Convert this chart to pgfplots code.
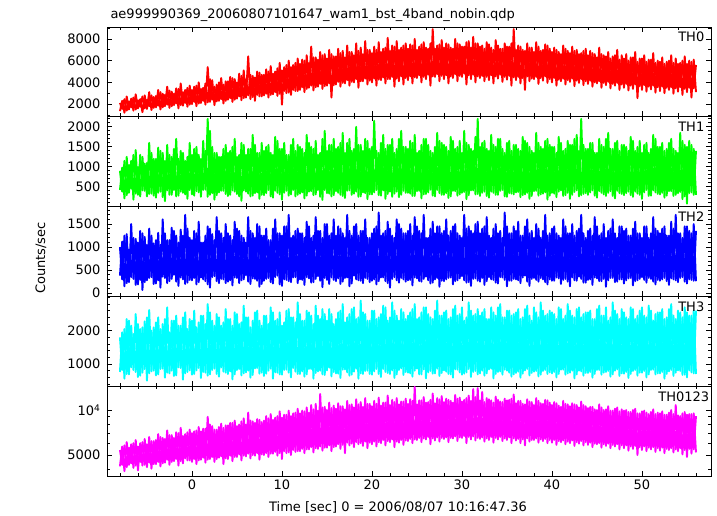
\documentclass[border=0pt]{standalone}
\usepackage{fontspec}
\setmainfont{DejaVu Sans}
\usepackage{pgfplots}
\usepackage{pgfplotstable}
\pgfplotsset{compat=1.18}

% t = time; a..e = first trace (TH0,TH1,TH2,TH3,TH0123); A..E = second, interleaved trace
\pgfplotstableread{
t a b c d e A B C D E
-8.00 1350 420 380 760 4200 2100 900 1000 1800 5400
-7.75 2300 980 1120 1950 5700 1550 380 300 820 4300
-7.50 1200 210 150 560 3900 2450 1150 1250 2050 5800
-7.25 2700 1250 1280 2350 6100 1400 290 220 700 4150
-7.00 1500 350 240 690 4300 2250 1050 950 2300 5600
-6.75 2500 1150 1500 2150 5900 1700 450 350 900 4400
-6.50 1400 180 310 820 4100 2600 1300 1200 1900 6000
-6.25 2900 1420 1180 2500 6300 1500 330 180 760 4250
-6.00 1600 300 190 610 3950 2350 1000 1100 2200 5700
-5.75 2450 1300 1350 2050 6000 1750 260 290 650 4500
-5.50 1250 410 70 740 4250 2700 1250 1300 2100 6100
-5.25 2800 1080 1220 2280 6400 1600 400 240 850 4300
-5.00 1550 260 280 500 4150 2400 1100 1050 2400 5900
-4.75 3100 1600 1400 2620 6600 1800 320 330 720 4450
-4.50 1450 330 350 780 4050 2800 1350 1250 2000 6200
-4.25 2650 1200 1080 2100 6200 1650 280 200 800 4350
-4.00 1700 230 210 660 4350 2750 1200 1150 2250 6300
-3.75 3300 1480 1310 2400 6900 1850 350 280 690 4500
-3.50 1500 380 120 850 4200 3100 1400 1050 2050 6600
-3.25 2950 1350 1600 2200 6500 1700 240 360 860 4400
-3.00 1800 140 330 590 4450 2850 1150 1300 2350 6400
-2.75 3600 1550 1150 2700 7300 1950 410 220 740 4650
-2.50 1650 300 260 720 4300 3250 1300 1150 1950 6800
-2.25 3150 1250 1420 2300 6800 1800 300 310 800 4500
-2.00 1900 420 400 640 4550 2950 1450 1350 2300 6500
-1.75 3450 1700 1250 2450 7100 2050 260 250 660 4700
-1.50 1600 280 160 900 4250 3400 1200 1100 2150 7000
-1.25 3900 1400 1380 2150 7600 1900 380 340 880 4550
-1.00 1850 350 300 530 4400 3100 1350 1250 2400 6700
-0.75 3300 1150 1700 2550 6900 2100 310 200 720 4750
-0.50 1750 200 230 760 4600 3500 1250 1400 2050 7100
-0.25 3700 1600 1200 2350 7400 1950 420 290 810 4600
0.00 2000 310 280 680 4500 3300 1300 1150 2300 7000
0.25 3600 1450 1350 2600 7200 2200 280 330 700 4700
0.50 1800 390 190 810 4350 3700 1500 1300 2100 7300
0.75 4000 1300 1550 2250 7700 2050 360 240 880 4600
1.00 2100 250 340 580 4650 3400 1200 1100 2450 7200
1.25 3500 1650 1100 2450 7500 2300 420 300 760 4800
1.50 1950 430 260 740 4450 3900 1400 1250 2200 7500
1.75 5400 2200 1450 2800 9000 2150 250 190 650 4650
2.00 2200 300 120 690 4700 4300 1900 1400 2550 8000
2.25 4200 1500 1280 2300 7800 2400 340 350 820 4850
2.50 1900 180 370 860 4500 3600 1350 1150 2150 7400
2.75 3800 1350 1650 2500 7400 2250 290 260 700 4700
3.00 2300 360 220 620 4800 4000 1250 1350 2400 7700
3.25 4400 1250 1300 2150 8100 2450 400 310 900 4900
3.50 2050 400 300 770 4350 3800 1450 1200 2250 7600
3.75 4100 1550 1500 2650 7900 2300 320 220 740 4750
4.00 2400 270 250 700 4700 4100 1350 1300 2350 7900
4.25 4500 1400 1250 2350 8200 2550 300 280 780 4950
4.50 2200 410 170 540 4550 4400 1500 1150 2150 8200
4.75 4300 1700 1550 2550 8500 2400 380 340 690 4850
5.00 2500 320 330 820 4850 4000 1250 1400 2500 7800
5.25 4800 1300 1350 2200 8000 2700 260 220 850 5050
5.50 2350 150 280 660 4600 4600 1600 1250 2250 8400
5.75 5100 1550 1200 2750 8800 2550 410 300 720 4950
6.00 2600 380 390 750 4900 4300 1300 1100 2400 8000
6.25 6400 1450 1650 2400 9600 2800 330 250 800 5100
6.50 2450 260 200 590 4750 4700 1450 1350 2100 8500
6.75 4600 1800 1300 2300 8400 2650 280 320 670 5000
7.00 2300 340 310 870 4950 4450 1550 1200 2550 8200
7.25 5000 1350 1500 2600 8700 2850 360 270 880 5150
7.50 2700 200 140 710 4650 4900 1350 1450 2300 8600
7.75 4700 1600 1250 2150 8300 2700 300 200 740 5050
8.00 2800 290 270 640 5000 4700 1400 1250 2450 8500
8.25 5200 1500 1400 2450 9100 2950 340 310 710 5150
8.50 2600 420 330 800 4850 5000 1550 1150 2200 8800
8.75 5500 1350 1150 2700 9400 2850 260 240 860 5100
9.00 2900 230 210 560 5100 4800 1300 1400 2550 8600
9.25 5000 1750 1600 2300 8900 3100 400 350 750 5250
9.50 2750 350 380 740 4950 5300 1650 1300 2350 9100
9.75 5800 1450 1300 2550 9800 2950 310 190 690 5150
10.00 1950 180 160 680 4700 5100 1450 1250 2150 8900
10.25 5400 1600 1450 2250 9300 3200 350 300 820 5300
10.50 3000 400 290 830 5150 5600 1300 1450 2600 9300
10.75 6000 1300 1700 2650 9900 3050 280 260 740 5200
11.00 2850 310 240 600 5000 5400 1550 1200 2400 9100
11.25 5600 1700 1250 2400 9500 3300 420 340 880 5400
11.50 3200 260 350 770 5250 5800 1400 1350 2250 9600
11.75 6200 1550 1400 2850 10200 3200 300 220 700 5300
12.00 3300 330 300 700 5300 5700 1500 1300 2500 9500
12.25 6100 1450 1300 2300 9900 3550 360 290 780 5500
12.50 3100 210 180 620 5150 6000 1350 1200 2300 9800
12.75 6500 1800 1550 2600 10400 3400 280 350 690 5450
13.00 3500 380 320 850 5450 5800 1600 1450 2550 9600
13.25 7300 1500 1200 2450 10800 3700 390 230 850 5650
13.50 3250 290 240 560 5200 6300 1450 1250 2200 10100
13.75 6300 1650 1650 2750 11000 3550 310 310 730 5550
14.00 3600 420 370 780 5500 6100 1300 1350 2450 9900
14.25 6800 1350 1350 2350 12800 3850 250 270 800 5700
14.50 3400 170 130 690 5350 6500 1700 1200 2650 10400
14.75 6600 1900 1500 2500 10500 3650 420 330 670 5600
15.00 3700 340 290 810 5600 6200 1400 1500 2300 10000
15.25 7000 1550 1250 2650 11200 3900 330 200 890 5800
15.50 2600 260 340 630 5300 6600 1550 1300 2500 10300
15.75 6400 1700 1600 2200 10700 3750 290 290 760 5650
16.00 3800 390 260 720 5700 6400 1450 1250 2350 10200
16.25 7100 1500 1450 2550 11100 4050 350 320 710 5900
16.50 3600 300 200 580 5500 6700 1600 1400 2600 10600
16.75 6900 1850 1300 2800 10600 3950 270 250 830 5850
17.00 3900 220 330 840 5150 6300 1350 1200 2250 10100
17.25 7400 1600 1700 2400 11500 4200 400 340 750 6050
17.50 3700 410 150 650 5800 6800 1700 1350 2500 10800
17.75 6800 1400 1250 2650 10900 4050 300 210 680 5950
18.00 4000 330 380 770 5650 6500 1450 1450 2700 10400
18.25 7600 2000 1500 2350 11800 4300 380 300 860 6100
18.50 3500 250 280 560 5900 6900 1550 1250 2400 10900
18.75 7200 1550 1350 2900 11300 4100 260 270 720 6000
19.00 4100 360 220 700 5750 6600 1400 1350 2550 10500
19.25 7800 1700 1600 2500 12000 4350 340 330 790 6150
19.50 3800 190 310 800 5550 7000 1650 1200 2300 11000
19.75 7000 1450 1200 2300 11000 4150 310 240 700 6050
20.00 4000 310 270 680 5900 6700 1500 1300 2600 10600
20.25 7300 2150 1400 2600 11500 4350 360 300 780 6150
20.50 3700 420 190 850 5700 7000 1400 1450 2350 11000
20.75 7700 1350 1750 2400 12100 4250 290 260 700 6100
21.00 4200 280 340 610 6000 6800 1600 1250 2500 10700
21.25 7100 1800 1300 2750 11200 4450 410 340 850 6300
21.50 3900 200 260 760 5800 7200 1450 1350 2700 11200
21.75 8100 1550 1550 2300 12500 4300 320 220 730 6200
22.00 4300 380 120 700 6100 6900 1550 1400 2400 10800
22.25 7400 1700 1250 2850 11700 4500 250 310 810 6350
22.50 3600 330 350 580 5650 7300 1350 1200 2600 11300
22.75 7800 1450 1600 2450 12000 4350 380 280 690 6150
23.00 4100 240 230 820 6050 7000 1700 1500 2300 10900
23.25 7200 1900 1400 2650 11400 4550 300 330 870 6300
23.50 3800 400 300 670 5850 7400 1500 1300 2550 11400
23.75 7600 1500 1300 2350 11900 4400 350 250 760 6250
24.00 4200 350 280 740 6200 7100 1450 1350 2450 11000
24.25 7500 1650 1500 2550 11800 4550 330 290 720 6400
24.50 3900 270 170 620 6000 7400 1600 1250 2650 11500
24.75 8000 1800 1650 2800 14300 4450 270 340 800 6350
25.00 4400 390 320 860 6300 7000 1350 1450 2350 10900
25.25 7300 1400 1350 2400 11600 4650 400 260 690 6500
25.50 4000 210 250 690 6100 7500 1550 1300 2550 11600
25.75 7700 1700 1700 2700 12200 4500 310 310 840 6450
26.00 4300 320 360 570 6350 7200 1700 1200 2700 11200
26.25 7100 1550 1200 2500 11300 4700 360 280 750 6600
26.50 3700 430 210 790 5900 7600 1400 1400 2400 11700
26.75 8900 1350 1550 2350 12900 4550 280 230 710 6450
27.00 4500 260 300 720 6250 7100 1500 1300 2600 11100
27.25 7400 1850 1450 2900 12000 4750 420 330 860 6550
27.50 4100 340 140 640 6150 7500 1650 1450 2450 11800
27.75 7900 1600 1300 2450 12400 4600 300 270 730 6500
28.00 4300 300 260 810 6400 7200 1550 1350 2550 11300
28.25 7600 1500 1600 2600 11900 4650 340 300 770 6550
28.50 3900 220 330 700 6100 7500 1400 1250 2350 11700
28.75 7200 1750 1350 2400 11500 4550 260 340 690 6500
29.00 4400 400 190 590 6450 7100 1650 1450 2650 11200
29.25 8000 1450 1500 2750 12600 4750 390 260 840 6650
29.50 4100 280 280 830 6200 7600 1500 1300 2450 11900
29.75 7500 1650 1250 2500 12100 4600 310 320 750 6550
30.00 4500 350 370 680 6500 7300 1350 1200 2700 11400
30.25 7300 1900 1700 2300 11700 4800 370 280 710 6700
30.50 3800 190 230 750 6000 7700 1600 1400 2400 12000
30.75 7800 1550 1450 2850 12500 4650 290 240 850 6600
31.00 4300 410 160 610 6350 7200 1450 1350 2600 11500
31.25 8200 1400 1300 2450 13800 4700 410 310 760 6650
31.50 4000 310 320 790 6250 7600 1750 1500 2500 12200
31.75 7600 2200 1550 2650 14000 4550 320 270 690 6500
32.00 4400 270 250 720 6400 7300 1500 1300 2450 11600
32.25 7400 1600 1400 2550 13200 4600 350 330 800 6550
32.50 4100 380 180 650 6150 7100 1650 1450 2650 11300
32.75 7700 1450 1650 2350 12000 4500 270 260 720 6450
33.00 4200 230 350 840 6300 7500 1400 1250 2350 11800
33.25 7200 1800 1200 2700 11600 4650 380 300 860 6600
33.50 3900 350 290 570 6050 7000 1550 1400 2550 11200
33.75 7900 1500 1500 2450 12300 4550 300 230 700 6500
34.00 4350 300 210 760 6350 7400 1700 1300 2700 11700
34.25 7100 1700 1350 2800 11400 4700 400 350 780 6600
34.50 4050 420 340 680 6200 7100 1450 1200 2400 11300
34.75 7600 1350 1750 2400 11900 4500 260 290 830 6450
35.00 4250 250 150 800 6300 7300 1600 1450 2600 11600
35.25 7300 1650 1300 2600 11700 4600 340 270 740 6550
35.50 3700 330 270 620 6000 7600 1400 1300 2450 11900
35.75 8900 1550 1450 2500 12700 4450 310 310 690 6450
36.00 4200 360 300 730 6250 7000 1550 1350 2550 11100
36.25 7400 1450 1550 2650 11500 4500 370 280 770 6400
36.50 3900 240 220 590 6000 7300 1400 1250 2350 11500
36.75 7000 1750 1250 2400 11000 4400 290 340 710 6350
37.00 3300 310 380 810 5800 6900 1650 1450 2650 10900
37.25 7600 1600 1600 2750 11800 4550 350 250 850 6450
37.50 4100 200 160 660 6150 7200 1500 1300 2450 11400
37.75 7200 1400 1350 2300 11300 4350 270 310 730 6300
38.00 4300 390 330 770 6300 6800 1350 1200 2700 10800
38.25 7700 1850 1500 2550 12000 4500 400 290 790 6450
38.50 3850 280 250 630 6050 7300 1600 1400 2400 11500
38.75 6900 1500 1200 2850 11100 4400 310 330 680 6350
39.00 4150 330 300 790 6200 7000 1450 1350 2600 11000
39.25 7500 1650 1700 2450 11700 4550 360 240 820 6400
39.50 3950 180 190 700 6000 7400 1700 1250 2500 11600
39.75 7100 1550 1300 2600 11200 4300 280 300 750 6300
40.00 4000 350 270 720 6050 6800 1500 1400 2550 10800
40.25 7200 1500 1450 2500 11300 4400 330 270 760 6300
40.50 3700 240 340 600 5850 7000 1350 1300 2350 11100
40.75 6800 1750 1250 2700 10700 4250 380 320 700 6200
41.00 4100 410 200 830 6100 6600 1600 1200 2650 10500
41.25 7400 1400 1600 2350 11500 4350 270 290 830 6250
41.50 3800 290 310 680 5900 7100 1450 1450 2450 11000
41.75 6900 1650 1300 2800 10900 4200 350 250 720 6150
42.00 4050 200 150 740 6000 6700 1550 1300 2600 10600
42.25 7300 1550 1500 2450 11100 4350 300 340 800 6250
42.50 3650 370 280 570 5750 6900 1700 1250 2400 10900
42.75 7000 1800 1350 2650 10800 4150 410 270 690 6100
43.00 3950 260 360 800 5950 6600 1400 1400 2700 10400
43.25 6700 2200 1700 2400 11400 4300 290 310 780 6200
43.50 3750 320 230 650 5800 6900 1550 1300 2500 10800
43.75 7100 1450 1200 2550 10600 4100 340 230 730 6100
44.00 3850 300 290 730 5850 6500 1450 1350 2550 10300
44.25 6900 1600 1400 2600 10500 4150 360 300 760 6050
44.50 3600 410 180 590 5650 6700 1600 1250 2350 10500
44.75 6600 1350 1650 2350 10100 4000 280 340 700 5950
45.00 3900 230 320 820 5900 6300 1350 1450 2650 10000
45.25 7200 1700 1250 2750 10900 4100 390 260 820 6000
45.50 3500 350 260 680 5600 6600 1550 1300 2450 10400
45.75 6500 1500 1500 2450 10000 3950 310 310 740 5900
46.00 3750 270 140 760 5750 6400 1700 1200 2700 10100
46.25 6800 1850 1350 2300 10600 4050 350 280 790 5950
46.50 3450 390 330 620 5550 6200 1450 1400 2400 9900
46.75 6400 1450 1600 2850 9900 3850 270 330 690 5850
47.00 3700 210 240 800 5700 6500 1600 1300 2600 10200
47.25 7000 1650 1200 2500 10400 3950 400 250 840 5900
47.50 3300 340 300 640 5450 6100 1400 1450 2350 9800
47.75 6500 1550 1450 2650 10100 3800 320 300 720 5800
48.00 3500 290 210 710 5550 6200 1550 1350 2550 9900
48.25 6600 1500 1400 2400 10000 3850 340 280 760 5800
48.50 3250 380 320 580 5350 6000 1400 1250 2350 9700
48.75 6300 1750 1250 2700 9700 3700 290 330 700 5700
49.00 3400 250 170 790 5500 6300 1650 1400 2650 10000
49.25 6800 1400 1550 2350 10200 3800 380 260 820 5750
49.50 2550 330 280 650 5000 5900 1500 1300 2450 9500
49.75 6200 1650 1300 2600 9500 3650 300 310 740 5650
50.00 3300 200 350 740 5400 6200 1350 1200 2700 9800
50.25 6500 1550 1450 2450 9900 3750 360 290 790 5700
50.50 3150 420 230 600 5300 5900 1600 1450 2400 9600
50.75 6100 1350 1200 2750 9400 3600 270 330 690 5600
51.00 3350 280 310 820 5450 6100 1450 1300 2600 9700
51.25 6700 1800 1650 2300 10100 3700 410 250 830 5650
51.50 3050 360 190 690 5250 5800 1700 1400 2500 9400
51.75 6000 1500 1350 2550 9600 3550 320 290 720 5550
52.00 3200 310 270 720 5350 5900 1500 1300 2550 9500
52.25 6300 1600 1400 2650 9800 3600 350 300 760 5600
52.50 3000 230 330 560 5150 5700 1400 1450 2350 9300
52.75 5900 1450 1250 2400 9300 3500 280 260 700 5500
53.00 3300 390 180 780 5400 6000 1600 1250 2650 9600
53.25 6500 1700 1550 2800 10000 3550 390 320 820 5550
53.50 2950 270 300 640 5200 5800 1450 1400 2450 9400
53.75 6200 1400 1700 2350 10800 3450 300 280 740 5450
54.00 3150 340 240 810 5300 5700 1350 1300 2600 9200
54.25 5800 1850 1300 2550 9100 3550 370 330 790 5550
54.50 2850 190 350 670 5050 6000 1650 1200 2400 9500
54.75 6400 1550 1450 2700 9700 3400 260 250 680 5400
55.00 3100 80 210 600 4850 5700 1500 1450 2550 9300
55.25 6000 1650 1350 2450 9400 3500 340 300 810 5500
55.50 2600 360 290 750 5100 5900 1550 1300 2450 9400
55.75 6100 1450 1500 2600 9500 3450 300 270 720 5450
56.00 3100 300 260 700 5200 5600 1400 1350 2600 9100
}\lc

\pgfplotsset{
  panel/.style={
    scale only axis, width=604bp,
    xmin=-9.44, xmax=57.67,
    axis line style={line width=0.9bp, black},
    every tick/.style={black, line width=0.8bp},
    major tick length=5bp, minor tick length=3bp,
    tick align=inside,
    xtick={0,10,...,50}, minor xtick={-8,-6,...,56},
    xticklabels={},
    tick label style={font=\fontsize{13bp}{15bp}\selectfont},
    yticklabel style={xshift=-3bp},
    /pgf/number format/assume math mode=true,
    /pgf/number format/1000 sep={},
    clip=true,
  },
  lc/.style={line width=1.9bp, line join=round, no markers},
}

\begin{document}
\begin{tikzpicture}
\path[use as bounding box] (-107bp,27bp) rectangle (610bp,-489bp);
\node[anchor=west, font=\fontsize{13bp}{15bp}\selectfont] at (0bp,12bp) {ae999990369\_20060807101647\_wam1\_bst\_4band\_nobin.qdp};

\begin{axis}[panel, at={(0bp,0bp)}, anchor=north west, height=89bp,
  ymin=900, ymax=9100, ytick={2000,4000,6000,8000}, minor ytick={1000,2000,...,9000}]
\addplot[lc, color={rgb,1:red,1;green,0;blue,0}] table[x=t, y=A] {\lc};
\addplot[lc, color={rgb,1:red,1;green,0;blue,0}] table[x=t, y=a] {\lc};
\node[anchor=west, font=\fontsize{13bp}{15bp}\selectfont] at (rel axis cs:0.94,0.888) {TH0};
\end{axis}

\begin{axis}[panel, at={(0bp,-89bp)}, anchor=north west, height=90bp,
  ymin=20, ymax=2270, ytick={500,1000,1500,2000}, minor ytick={100,200,...,2200}]
\addplot[lc, color={rgb,1:red,0;green,1;blue,0}] table[x=t, y=B] {\lc};
\addplot[lc, color={rgb,1:red,0;green,1;blue,0}] table[x=t, y=b] {\lc};
\node[anchor=west, font=\fontsize{13bp}{15bp}\selectfont] at (rel axis cs:0.94,0.88) {TH1};
\end{axis}

\begin{axis}[panel, at={(0bp,-179bp)}, anchor=north west, height=90bp,
  ymin=-60, ymax=1890, ytick={0,500,1000,1500}, minor ytick={0,100,...,1800}]
\addplot[lc, color={rgb,1:red,0;green,0;blue,1}] table[x=t, y=C] {\lc};
\addplot[lc, color={rgb,1:red,0;green,0;blue,1}] table[x=t, y=c] {\lc};
\node[anchor=west, font=\fontsize{13bp}{15bp}\selectfont] at (rel axis cs:0.94,0.88) {TH2};
\end{axis}

\begin{axis}[panel, at={(0bp,-269bp)}, anchor=north west, height=90bp,
  ymin=340, ymax=3040, ytick={1000,2000}, minor ytick={400,600,...,3000}]
\addplot[lc, color={rgb,1:red,0;green,1;blue,1}] table[x=t, y=D] {\lc};
\addplot[lc, color={rgb,1:red,0;green,1;blue,1}] table[x=t, y=d] {\lc};
\node[anchor=west, font=\fontsize{13bp}{15bp}\selectfont] at (rel axis cs:0.94,0.88) {TH3};
\end{axis}

\begin{axis}[panel, at={(0bp,-359bp)}, anchor=north west, height=90bp,
  ymode=log, ymin=3620, ymax=14470, ytick={5000,10000}, yticklabels={5000,10\textsuperscript{4}},
  minor ytick={4000,6000,7000,8000,9000},
  xticklabels={0,10,20,30,40,50}]
\addplot[lc, color={rgb,1:red,1;green,0;blue,1}] table[x=t, y=E] {\lc};
\addplot[lc, color={rgb,1:red,1;green,0;blue,1}] table[x=t, y=e] {\lc};
\node[anchor=west, font=\fontsize{13bp}{15bp}\selectfont] at (rel axis cs:0.907,0.881) {TH0123};
\end{axis}

\node[rotate=90, font=\fontsize{13bp}{15bp}\selectfont] at (-66bp,-231bp) {Counts/sec};
\node[font=\fontsize{13bp}{15bp}\selectfont] at (291bp,-480bp) {Time [sec] 0 = 2006/08/07 10:16:47.36};
\end{tikzpicture}
\end{document}
